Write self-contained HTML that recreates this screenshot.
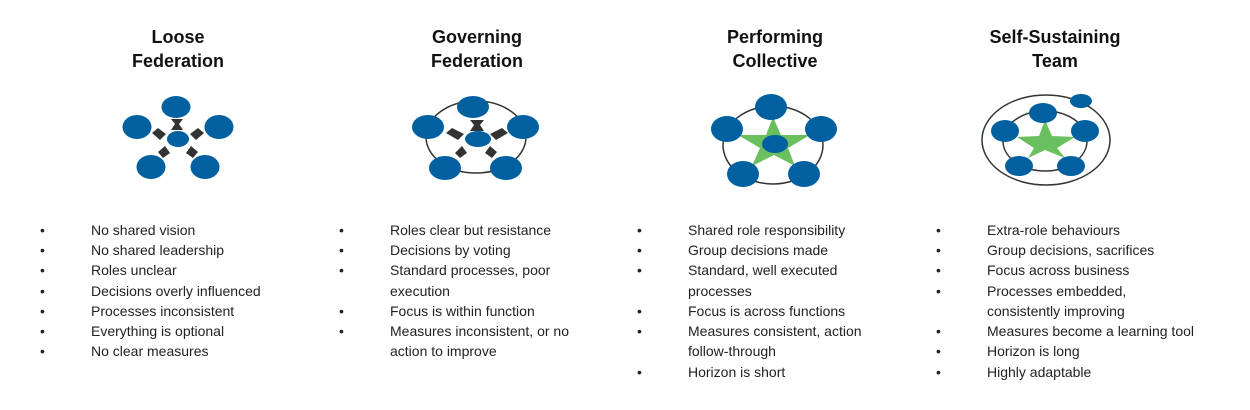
<!DOCTYPE html>
<html><head><meta charset="utf-8"><style>
html,body{margin:0;padding:0;background:#fff;width:1250px;height:410px;overflow:hidden}
svg{display:block}
.t{font-family:"Liberation Sans",sans-serif;font-size:18px;font-weight:bold;fill:#111;text-anchor:middle}
.b{font-family:"Liberation Sans",sans-serif;font-size:14px;fill:#222}
.n{fill:#0060a0}
.a{fill:#333}
.r{fill:none;stroke:#333;stroke-width:1.5}
.s{fill:#6abf5e}
</style></head><body>
<svg width="1250" height="410" viewBox="0 0 1250 410">
<!-- titles -->
<text class="t" x="178" y="43">Loose</text><text class="t" x="178" y="67">Federation</text>
<text class="t" x="477" y="43">Governing</text><text class="t" x="477" y="67">Federation</text>
<text class="t" x="775" y="43">Performing</text><text class="t" x="775" y="67">Collective</text>
<text class="t" x="1055" y="43">Self-Sustaining</text><text class="t" x="1055" y="67">Team</text>

<!-- Loose -->
<g class="a">
<path d="M171 119 L183 119 L179 124 L183 130 L171 130 L175 124Z"/>
<path d="M152 133 L158 128 L166 134 L160 140Z"/>
<path d="M190 134 L198 128 L204 133 L196 140Z"/>
<path d="M158 152 L165 146 L170 153 L163 158Z"/>
<path d="M186 153 L191 146 L198 152 L193 158Z"/>
</g>
<ellipse class="n" cx="176" cy="107" rx="14.5" ry="11"/>
<ellipse class="n" cx="137" cy="127" rx="14.5" ry="12"/>
<ellipse class="n" cx="219" cy="127" rx="14.5" ry="12"/>
<ellipse class="n" cx="151" cy="167" rx="14.5" ry="12"/>
<ellipse class="n" cx="205" cy="167" rx="14.5" ry="12"/>
<ellipse class="n" cx="178" cy="139" rx="11" ry="8"/>

<!-- Governing -->
<ellipse class="r" cx="476" cy="137" rx="50" ry="36"/>
<g class="a">
<path d="M470 120 L484 120 L480 125 L484 131 L470 131 L474 125Z"/>
<path d="M446 133 L452 128 L464 134 L458 140Z"/>
<path d="M490 134 L502 128 L508 133 L496 140Z"/>
<path d="M455 153 L462 146 L467 153 L460 158Z"/>
<path d="M485 153 L490 146 L497 152 L492 158Z"/>
</g>
<ellipse class="n" cx="473" cy="107" rx="16" ry="11"/>
<ellipse class="n" cx="428" cy="127" rx="16" ry="12"/>
<ellipse class="n" cx="523" cy="127" rx="16" ry="12"/>
<ellipse class="n" cx="445" cy="168" rx="16" ry="12"/>
<ellipse class="n" cx="506" cy="168" rx="16" ry="12"/>
<ellipse class="n" cx="478" cy="139" rx="13" ry="8"/>

<!-- Performing -->
<ellipse class="r" cx="773" cy="145" rx="50" ry="39"/>
<polygon class="s" points="773,117 781,135 810,135 788,148 795,166 774,155 752,166 760,148 738,135 766,135"/>
<ellipse class="n" cx="771" cy="107" rx="16" ry="13"/>
<ellipse class="n" cx="727" cy="129" rx="16" ry="13"/>
<ellipse class="n" cx="821" cy="129" rx="16" ry="13"/>
<ellipse class="n" cx="743" cy="174" rx="16" ry="13"/>
<ellipse class="n" cx="804" cy="174" rx="16" ry="13"/>
<ellipse class="n" cx="775" cy="144" rx="13" ry="9"/>

<!-- Self-sustaining -->
<ellipse class="r" cx="1046" cy="140" rx="64" ry="45"/>
<ellipse class="r" cx="1045" cy="141" rx="42" ry="30"/>
<polygon class="s" points="1045,120 1052,136 1075,137 1057,148 1065,158 1045,150 1028,158 1034,148 1017,137 1039,136"/>
<ellipse class="n" cx="1081" cy="101" rx="11" ry="7"/>
<ellipse class="n" cx="1043" cy="113" rx="14" ry="10"/>
<ellipse class="n" cx="1005" cy="131" rx="14" ry="11"/>
<ellipse class="n" cx="1085" cy="131" rx="14" ry="11"/>
<ellipse class="n" cx="1019" cy="166" rx="14" ry="10"/>
<ellipse class="n" cx="1071" cy="166" rx="14" ry="10"/>

<!-- bullets col1 -->
<g class="b">
<text x="40" y="235">•</text><text x="91" y="235">No shared vision</text>
<text x="40" y="255">•</text><text x="91" y="255">No shared leadership</text>
<text x="40" y="275">•</text><text x="91" y="275">Roles unclear</text>
<text x="40" y="296">•</text><text x="91" y="296">Decisions overly influenced</text>
<text x="40" y="316">•</text><text x="91" y="316">Processes inconsistent</text>
<text x="40" y="336">•</text><text x="91" y="336">Everything is optional</text>
<text x="40" y="356">•</text><text x="91" y="356">No clear measures</text>

<text x="339" y="235">•</text><text x="390" y="235">Roles clear but resistance</text>
<text x="339" y="255">•</text><text x="390" y="255">Decisions by voting</text>
<text x="339" y="275">•</text><text x="390" y="275">Standard processes, poor</text>
<text x="390" y="296">execution</text>
<text x="339" y="316">•</text><text x="390" y="316">Focus is within function</text>
<text x="339" y="336">•</text><text x="390" y="336">Measures inconsistent, or no</text>
<text x="390" y="356">action to improve</text>

<text x="637" y="235">•</text><text x="688" y="235">Shared role responsibility</text>
<text x="637" y="255">•</text><text x="688" y="255">Group decisions made</text>
<text x="637" y="275">•</text><text x="688" y="275">Standard, well executed</text>
<text x="688" y="296">processes</text>
<text x="637" y="316">•</text><text x="688" y="316">Focus is across functions</text>
<text x="637" y="336">•</text><text x="688" y="336">Measures consistent, action</text>
<text x="688" y="356">follow-through</text>
<text x="637" y="377">•</text><text x="688" y="377">Horizon is short</text>

<text x="936" y="235">•</text><text x="987" y="235">Extra-role behaviours</text>
<text x="936" y="255">•</text><text x="987" y="255">Group decisions, sacrifices</text>
<text x="936" y="275">•</text><text x="987" y="275">Focus across business</text>
<text x="936" y="296">•</text><text x="987" y="296">Processes embedded,</text>
<text x="987" y="316">consistently improving</text>
<text x="936" y="336">•</text><text x="987" y="336">Measures become a learning tool</text>
<text x="936" y="356">•</text><text x="987" y="356">Horizon is long</text>
<text x="936" y="377">•</text><text x="987" y="377">Highly adaptable</text>
</g>
</svg>
</body></html>
